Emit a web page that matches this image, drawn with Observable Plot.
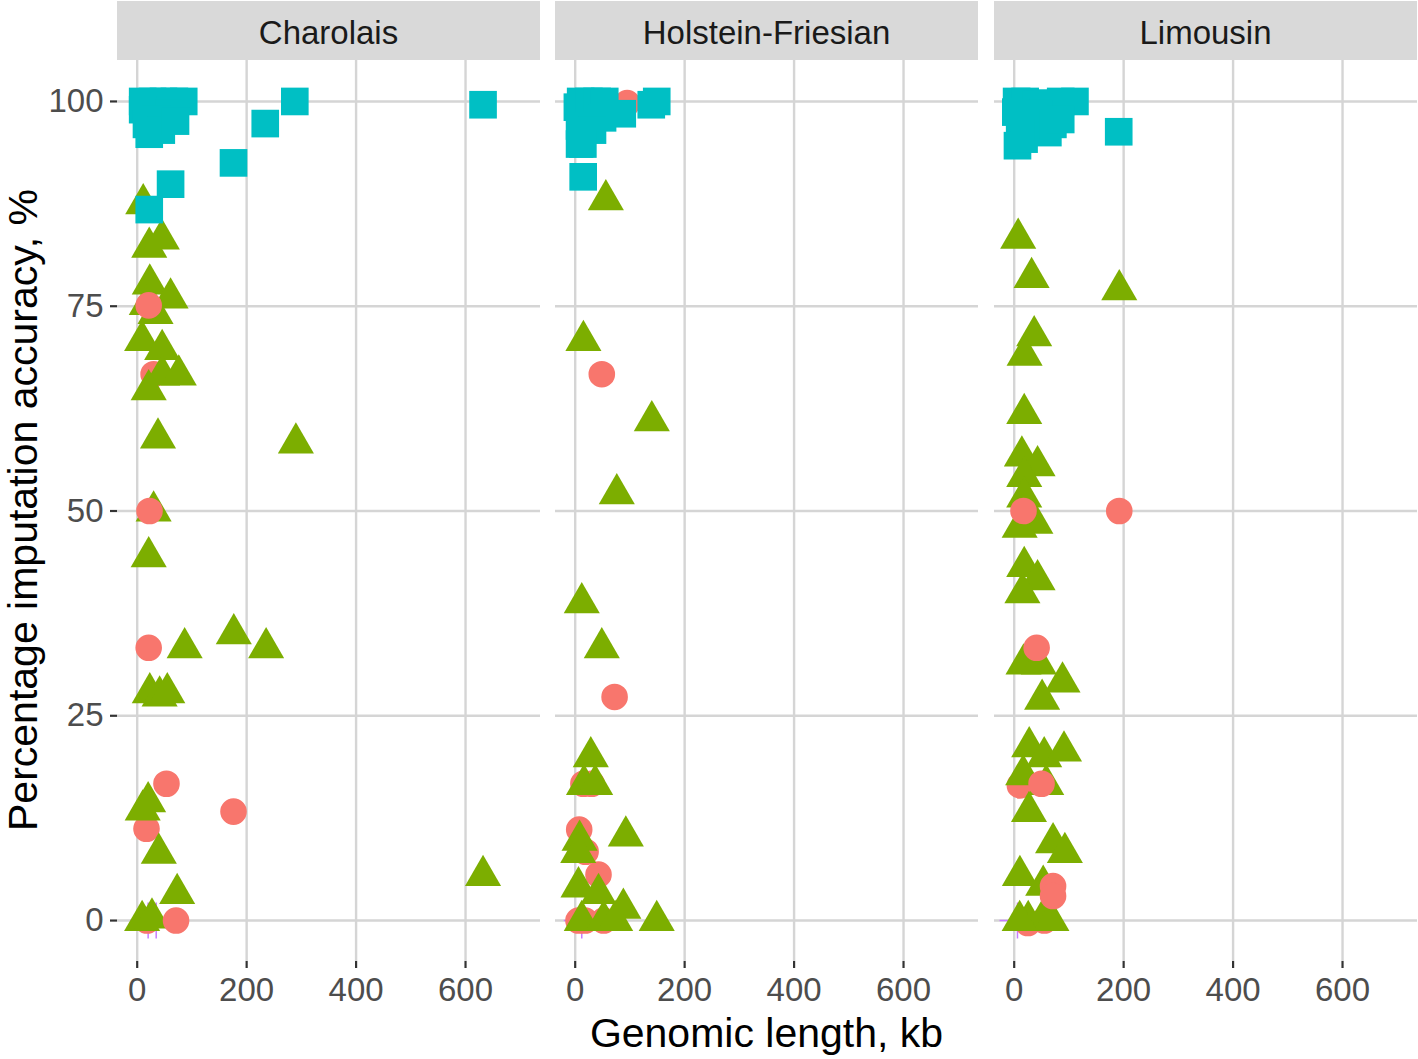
<!DOCTYPE html>
<html><head><meta charset="utf-8">
<script src="https://cdn.jsdelivr.net/npm/d3@7"></script>
<script src="https://cdn.jsdelivr.net/npm/@observablehq/plot@0.6"></script>
<style>
body{margin:0;background:#fff;}
#wrap{position:relative;width:1418px;height:1059px;font-family:"Liberation Sans",Arial,sans-serif;overflow:hidden;}
.strip{position:absolute;top:1px;height:59px;width:423px;background:#d9d9d9;color:#1a1a1a;font-size:33px;text-align:center;line-height:59px;}
.strip span{position:relative;top:2px;}
.panel{position:absolute;top:60px;}
#xtitle{position:absolute;left:117px;width:1299px;top:1013px;font-size:41px;line-height:41px;text-align:center;color:#000;}
#ytitle{position:absolute;left:0;top:0;height:1020px;width:47px;writing-mode:vertical-rl;transform:rotate(180deg);white-space:nowrap;font-size:41px;line-height:47px;text-align:center;color:#000;}
</style></head>
<body><div id="wrap"></div>
<script>
const breeds = ["Charolais", "Holstein-Friesian", "Limousin"];
const xTicks = [0, 200, 400, 600];
const yTicks = [0, 25, 50, 75, 100];

// [genomic length kb, accuracy %]
const charolaisCrosses = [[20, 0], [34.7, 0]];
const charolaisCirclesBack = [[30, 66.7], [17, 11.2], [18, 0]];
const charolaisTriangles = [[11, 87.5], [22, 82.2], [45, 83.2], [23, 77.7], [61, 76], [17.5, 75.2], [33.5, 74.1],
  [9, 70.8], [45.6, 69.7], [45.6, 66.6], [76, 66.6], [21, 64.8], [38, 58.9], [290, 58.3], [30, 50], [21, 44.4],
  [86.7, 33.3], [176.5, 35], [235.6, 33.3], [23, 27.8], [41, 27.4], [55, 27.8], [10, 13.5], [20, 14.5],
  [39.5, 8.2], [73, 3.3], [632, 5.5], [9, 0], [27, 0.3]];
const charolaisCirclesFront = [[21, 75.1], [22.5, 50], [21, 33.3], [53.5, 16.7], [176, 13.3], [71, 0]];
const charolaisSquares = [[10, 100], [28, 100], [48, 100], [68, 100], [85, 100], [10, 99], [30, 98.8], [58, 98.5],
  [17, 97.2], [35, 97.8], [22, 96], [44, 96.5], [70, 97.6], [176, 92.5], [234, 97.3], [288, 100], [632, 99.6],
  [61, 89.9], [22, 86.8]];

const holsteinCrosses = [[12, 0]];
const holsteinCirclesBack = [[15, 16.7], [30, 16.7], [7.3, 11.1], [19, 8.4], [42.6, 5.6], [6, 0], [52, 0], [18, 0], [95, 99.8]];
const holsteinTriangles = [[56, 88], [15, 70.8], [140, 61], [76, 52.1], [12, 38.8], [48.6, 33.3], [28.5, 20],
  [16, 16.6], [36.5, 16.6], [92.5, 10.3], [8, 9.8], [5.5, 8.3], [6, 4.1], [42.6, 3.3], [88, 1.5], [149, 0],
  [12, 0], [52, 0], [73, 0]];
const holsteinCirclesFront = [[48.6, 66.7], [72, 27.3]];
const holsteinSquares = [[4, 99.3], [10, 100], [25, 100], [40, 100], [54, 100], [139, 99.6],
  [149, 100], [8, 97], [50, 98], [86, 98.5], [31.6, 96.5], [8, 94.8], [14, 94.8], [14.6, 90.8]];

const limousinCrosses = [[6, 0]];
const limousinCirclesBack = [[10.4, 16.5], [25, -0.3], [55, 0]];
const limousinTriangles = [[7.3, 83.3], [31.8, 78.5], [192, 77], [36.5, 71.4], [19, 69], [18.3, 61.9], [14, 56.7],
  [42.7, 55.5], [18.3, 54.2], [18.3, 51.7], [38.7, 48.5], [10, 48], [18.3, 43.2], [42.7, 41.6], [15, 40],
  [17, 31.3], [45, 31.3], [88.3, 29.1], [51, 27], [27.4, 21.2], [54.8, 20], [91, 20.7], [16.4, 17.8],
  [58.5, 16.6], [27, 13.3], [71, 9.5], [92.6, 8.3], [10.4, 5.5], [53, 4.3], [25.6, 0], [53, 0.3], [10, 0], [68, 0]];
const limousinCirclesFront = [[41, 33.3], [17, 50], [192, 50], [50, 16.7], [71, 4.2], [71, 3]];
const limousinSquares = [[4.4, 100], [20, 100], [40, 99.7], [60, 99.8], [85, 100], [111, 100], [3, 98.7], [10, 97.5],
  [45, 98.5], [35, 97], [6, 94.6], [18, 95.4], [61.5, 96.2], [70.7, 97.2], [85, 97.8], [191, 96.3]];

const groups = [
  {crosses: charolaisCrosses, back: charolaisCirclesBack, tri: charolaisTriangles, front: charolaisCirclesFront, sq: charolaisSquares},
  {crosses: holsteinCrosses, back: holsteinCirclesBack, tri: holsteinTriangles, front: holsteinCirclesFront, sq: holsteinSquares},
  {crosses: limousinCrosses, back: limousinCirclesBack, tri: limousinTriangles, front: limousinCirclesFront, sq: limousinSquares}
];

const fillOf = {circle: "#F8766D", triangle: "#7CAE00", square: "#00BFC4"};
const rOf = {circle: 13.3, triangle: 13.4, square: 15.6};
const panelLeft = [117, 555, 994];
const panelW = 423;
const font = "'Liberation Sans', Arial, sans-serif";

const wrap = document.getElementById("wrap");

breeds.forEach((b, i) => {
  const g = groups[i];
  const rec = (arr, shape) => arr.map(([x, y]) => ({x, y, shape}));
  const pts = [...rec(g.back, "circle"), ...rec(g.tri, "triangle"), ...rec(g.front, "circle"), ...rec(g.sq, "square")];
  const crosses = rec(g.crosses, "plus");
  const first = i === 0;
  const ml = first ? panelLeft[0] : 0;
  const marks = [
    Plot.gridX(xTicks, {stroke: "#d5d5d5", strokeOpacity: 1, strokeWidth: 2.4}),
    Plot.gridY(yTicks, {stroke: "#d5d5d5", strokeOpacity: 1, strokeWidth: 2.4}),
    Plot.axisX({ticks: xTicks, tickSize: 7, tickPadding: 9, fontSize: 33, fill: "#4d4d4d", stroke: "#333333", strokeWidth: 2.2, label: null}),
    Plot.dot(crosses, {x: "x", y: "y", symbol: "plus", r: 11.6, stroke: "#C77CFF", strokeWidth: 1.5}),
    Plot.dot(pts, {x: "x", y: "y", symbol: "shape", fill: d => fillOf[d.shape], r: d => rOf[d.shape], stroke: "none", sort: null})
  ];
  if (first) marks.splice(3, 0, Plot.axisY({ticks: yTicks, tickSize: 7, tickPadding: 7, fontSize: 33, fill: "#4d4d4d", stroke: "#333333", strokeWidth: 2.2, label: null}));
  const chart = Plot.plot({
    width: ml + panelW,
    height: 951,
    marginLeft: ml,
    marginRight: 0,
    marginTop: 0,
    marginBottom: 50,
    x: {domain: [-36, 737]},
    y: {domain: [-5, 105], axis: first ? undefined : null},
    color: {type: "identity"},
    r: {type: "identity"},
    style: {fontFamily: font, background: "transparent", overflow: "visible"},
    marks
  });
  chart.classList.add("panel");
  chart.style.left = (panelLeft[i] - ml) + "px";
  wrap.appendChild(chart);

  const strip = document.createElement("div");
  strip.className = "strip";
  strip.style.left = panelLeft[i] + "px";
  strip.innerHTML = "<span></span>";
  strip.firstChild.textContent = b;
  wrap.appendChild(strip);
});

const xt = document.createElement("div");
xt.id = "xtitle";
xt.textContent = "Genomic length, kb";
wrap.appendChild(xt);
const yt = document.createElement("div");
yt.id = "ytitle";
yt.textContent = "Percentage imputation accuracy, %";
wrap.appendChild(yt);
</script>
</body></html>
